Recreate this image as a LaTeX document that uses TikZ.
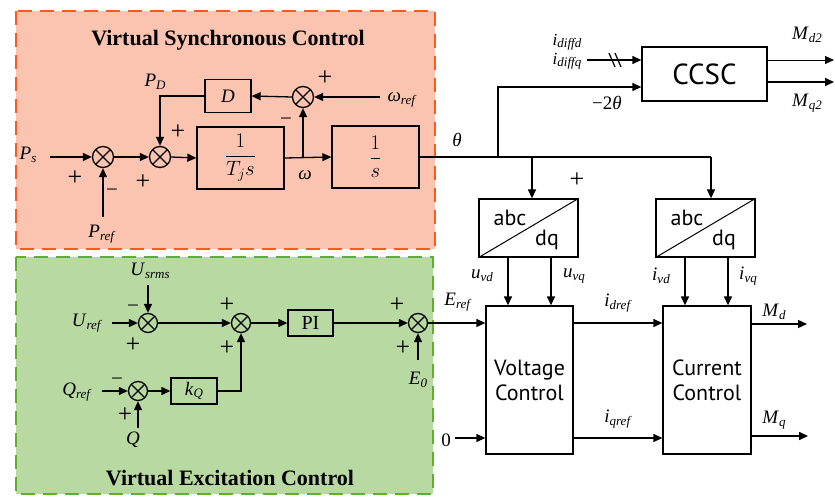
\documentclass[tikz,border=0pt]{standalone}
\usepackage{fontspec}
\setmainfont{Liberation Serif}
\setsansfont{PT Sans}
\usetikzlibrary{arrows.meta,calc}
\definecolor{redfill}{RGB}{250,196,176}
\definecolor{redline}{RGB}{250,90,30}
\definecolor{greenfill}{RGB}{185,217,163}
\definecolor{greenline}{RGB}{95,175,45}
\newcommand\vl[2]{\textit{#1}\raisebox{-0.3ex}{\fontsize{13}{13}\selectfont\textit{#2}}}
\tikzset{
  conn/.style={line width=1.3pt,-{Triangle[length=9pt,width=8pt]}},
  thinconn/.style={line width=0.9pt,-{Triangle[length=9pt,width=8pt]}},
  wire/.style={line width=1.3pt},
  blk/.style={draw,line width=1.3pt,inner sep=0pt,fill=none},
  sumj/.style={circle,draw,line width=1.3pt,minimum size=#1,inner sep=0pt,
    path picture={\draw[line width=1.3pt]
      (path picture bounding box.north west)--(path picture bounding box.south east)
      (path picture bounding box.north east)--(path picture bounding box.south west);}},
  lbl/.style={font=\fontsize{19}{21}\selectfont,inner sep=0pt},
  sgn/.style={font=\fontsize{26}{28}\selectfont,inner sep=0pt},
  msgn/.style={font=\fontsize{21}{23}\selectfont,inner sep=0pt},
  ttl/.style={font=\fontsize{22}{24}\selectfont\bfseries,inner sep=0pt},
  sanslbl/.style={font=\fontsize{22}{25}\selectfont\sffamily,inner sep=0pt,align=center},
  region/.style={line width=2.5pt,dash pattern=on 14pt off 8pt},
}
\begin{document}
\begin{tikzpicture}[x=1pt,y=-1pt]
\useasboundingbox (0,0) rectangle (835,497);
% regions
\draw[region,draw=redline,fill=redfill] (16,11) rectangle (435,249);
\draw[region,draw=greenline,fill=greenfill] (16,257) rectangle (433,494);
\node[ttl] (t1) at (228,40) {Virtual Synchronous Control};
\node[ttl] (t2) at (230,478) {Virtual Excitation Control};

% ---------- virtual synchronous control ----------
\node[sumj=21pt] (s1) at (103,157) {};
\node[sumj=21pt] (s2) at (160,157) {};
\node[sumj=21pt] (s3) at (303,97) {};
\node[blk,minimum width=46pt,minimum height=33pt,lbl] (D) at (228,96) {\textit{D}};
\node[blk,minimum width=87pt,minimum height=62pt,font=\fontsize{22}{24}\selectfont] (tj) at (240.5,158) {$\displaystyle\frac{1}{T_j s}$};
\node[blk,minimum width=87pt,minimum height=62pt,font=\fontsize{22}{24}\selectfont] (is) at (375.5,157) {$\displaystyle\frac{1}{s}$};

\node[lbl] (ps) at (28,155) {\vl{P}{s}};
\node[lbl] (pref) at (102,234) {\vl{P}{ref}};
\node[lbl] (pd) at (155,82) {\vl{P}{D}};
\node[lbl] (om) at (305,175) {\textit{ω}};
\node[lbl] (wref) at (402,100) {\vl{ω}{ref}};
\node[sgn] (p1) at (75,178) {+};
\node[msgn] (m1) at (112,193) {−};
\node[sgn] (p2) at (143,182) {+};
\node[sgn] (p3) at (178,132) {+};
\node[msgn] (m3) at (286,122) {−};
\node[sgn] (p4) at (325,78) {+};

\coordinate (psin) at (50,157);
\coordinate (prefin) at (103,217);
\coordinate (wrin) at (380,97);
\coordinate (br1) at (303,157);
\draw[conn] (psin) -- (s1.west);
\draw[conn] (prefin) -- (s1.south);
\draw[conn] (s1.east) -- (s2.west);
\draw[conn] (s2.east) -- (tj.west);
\draw[conn] (tj.east) -- (is.west);
\draw[conn] (br1) -- (s3.south);
\draw[conn] (wrin) -- (s3.east);
\draw[conn] (s3.west) -- (D.east);
\draw[conn] (D.west) -| (s2.north);

% ---------- theta distribution and CCSC ----------
\node[blk,minimum width=125pt,minimum height=54pt,sanslbl,font=\fontsize{29}{31}\selectfont\sffamily] (ccsc) at (704.5,74) {CCSC};
\node[blk,minimum width=99pt,minimum height=58pt] (abc1) at (528.5,228) {};
\node[blk,minimum width=99pt,minimum height=58pt] (abc2) at (705.5,228) {};
\draw[wire,line width=1pt] (abc1.south west) -- (abc1.north east);
\draw[wire,line width=1pt] (abc2.south west) -- (abc2.north east);
\node[sanslbl] (abc1a) at (510,218) {abc};
\node[sanslbl] (abc1b) at (547,240) {dq};
\node[sanslbl] (abc2a) at (687,218) {abc};
\node[sanslbl] (abc2b) at (724,240) {dq};

\coordinate (th1) at (498,157);
\coordinate (th2) at (532,157);
\coordinate (th3) at (711,157);
\coordinate (thup) at (498,87);
\draw[wire] (is.east) -- (th3);
\draw[conn] (th1) -- (thup) -- (thup -| ccsc.west);
\draw[conn] (th2) -- (th2 |- abc1.north);
\draw[conn] (th3) -- (th3 |- abc2.north);
\node[lbl] (theta) at (457,140) {\textit{θ}};
\node[lbl] (m2th) at (607,103) {−2\textit{θ}};
\node[sgn] (p5) at (577,180) {+};

\node[lbl,font=\fontsize{17}{18}\selectfont] (idd) at (567,42) {\vl{i}{diffd}};
\node[lbl,font=\fontsize{17}{18}\selectfont] (idq) at (567,61) {\vl{i}{diffq}};
\coordinate (idin) at (587,60);
\draw[conn] (idin) -- (idin -| ccsc.west);
\draw[line width=1.2pt] (609,53) -- (615,67) (615,53) -- (621,67);

\coordinate (md2o) at (834,60);
\coordinate (mq2o) at (834,82);
\draw[thinconn] (md2o -| ccsc.east) -- (md2o);
\draw[conn,line width=1.6pt] (mq2o -| ccsc.east) -- (mq2o);
\node[lbl] (md2) at (807,35) {\vl{M}{d2}};
\node[lbl] (mq2) at (807,103) {\vl{M}{q2}};

% ---------- voltage & current control ----------
\node[blk,minimum width=87pt,minimum height=148pt,sanslbl] (vc) at (529.5,380) {Voltage\\Control};
\node[blk,minimum width=88pt,minimum height=148pt,sanslbl] (cc) at (707,380) {Current\\Control};

\coordinate (uvdt) at (508,257);
\coordinate (uvqt) at (551,257);
\coordinate (ivdt) at (685,257);
\coordinate (ivqt) at (728,257);
\draw[conn] (uvdt) -- (uvdt |- vc.north);
\draw[conn] (uvqt) -- (uvqt |- vc.north);
\draw[conn] (ivdt) -- (ivdt |- cc.north);
\draw[conn] (ivqt) -- (ivqt |- cc.north);
\node[lbl] (uvd) at (482,276) {\vl{u}{vd}};
\node[lbl] (uvq) at (574,276) {\vl{u}{vq}};
\node[lbl] (ivd) at (661,276) {\vl{i}{vd}};
\node[lbl] (ivq) at (748,276) {\vl{i}{vq}};

\coordinate (zin) at (455,438);
\draw[conn] (zin) -- (zin -| vc.west);
\node[lbl] (zero) at (446,440) {0};
\coordinate (r1) at (573,323);
\coordinate (r2) at (573,438);
\draw[conn] (r1) -- (r1 -| cc.west);
\draw[conn] (r2) -- (r2 -| cc.west);
\node[lbl] (idref) at (618,303) {\vl{i}{dref}};
\node[lbl] (iqref) at (618,419) {\vl{i}{qref}};
\coordinate (mdo) at (807,324);
\coordinate (mqo) at (808,436);
\draw[conn] (mdo -| cc.east) -- (mdo);
\draw[conn,line width=1.6pt] (mqo -| cc.east) -- (mqo);
\node[lbl] (md) at (774,312) {\vl{M}{d}};
\node[lbl] (mq) at (774,420) {\vl{M}{q}};
\node[lbl] (eref) at (458,302) {\vl{E}{ref}};

% ---------- virtual excitation control ----------
\node[sumj=19pt] (sa) at (148,323) {};
\node[sumj=19pt] (sb) at (241,323) {};
\node[sumj=19pt] (sc) at (418,323) {};
\node[sumj=19pt] (sd) at (138,391) {};
\node[blk,minimum width=45pt,minimum height=26pt,font=\fontsize{20}{22}\selectfont] (pi) at (310.5,323) {PI};
\node[blk,minimum width=46pt,minimum height=26pt,lbl] (kq) at (194,391) {\vl{k}{Q}};

\node[lbl] (usrms) at (150,271) {\vl{U}{srms}};
\node[lbl] (uref) at (87,323) {\vl{U}{ref}};
\node[lbl] (e0) at (418,380) {\vl{E}{0}};
\node[lbl] (qref) at (77,392) {\vl{Q}{ref}};
\node[lbl] (qq) at (133,440) {\textit{Q}};
\node[msgn] (ma) at (133,309) {−};
\node[sgn] (pa) at (133,345) {+};
\node[sgn] (pb1) at (227,305) {+};
\node[sgn] (pb2) at (227,348) {+};
\node[sgn] (pc1) at (397,305) {+};
\node[sgn] (pc2) at (403,348) {+};
\node[msgn] (md1) at (117,382) {−};
\node[sgn] (pd1) at (125,415) {+};

\coordinate (usin) at (148,285);
\coordinate (urin) at (112,323);
\coordinate (e0in) at (418,360);
\coordinate (qrin) at (102,391);
\coordinate (qin) at (138,428);
\draw[conn] (usin) -- (sa.north);
\draw[conn] (urin) -- (sa.west);
\draw[conn] (sa.east) -- (sb.west);
\draw[conn] (sb.east) -- (pi.west);
\draw[conn] (pi.east) -- (sc.west);
\draw[conn] (e0in) -- (sc.south);
\draw[conn] (sc.east) -- (sc.east -| vc.west);
\draw[conn] (qrin) -- (sd.west);
\draw[conn] (qin) -- (sd.south);
\draw[conn] (sd.east) -- (kq.west);
\draw[conn] (kq.east) -| (sb.south);
\end{tikzpicture}
\end{document}
